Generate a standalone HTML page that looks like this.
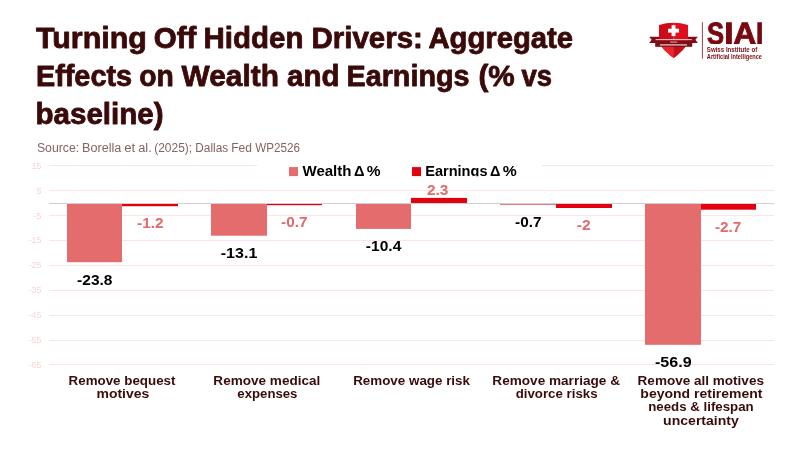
<!DOCTYPE html>
<html>
<head>
<meta charset="utf-8">
<title>Turning Off Hidden Drivers</title>
<style>
html,body{margin:0;padding:0;background:#fff;}
body{width:800px;height:450px;overflow:hidden;font-family:"Liberation Sans",sans-serif;}
svg{display:block;}
text{font-family:"Liberation Sans",sans-serif;}
svg{will-change:transform;}
.title{font-weight:bold;font-size:29.3px;fill:#3a0a0a;stroke:#3a0a0a;stroke-width:0.8px;stroke-linejoin:round;}
.siai{text-rendering:geometricPrecision;font-weight:bold;font-size:30.8px;fill:#770a11;stroke:#770a11;stroke-width:0.9px;stroke-linejoin:miter;}
.lt{font-weight:bold;font-size:7px;fill:#7b0d14;}
.sub{font-size:12px;fill:#856264;}
.ax{font-size:8.8px;fill:#f9d3d3;text-anchor:end;}
.leg{font-weight:bold;font-size:15px;fill:#000;}
.dlk{font-weight:bold;font-size:14px;fill:#000;}
.dlr{font-weight:bold;font-size:14px;fill:#e26a6a;}
.cat{font-weight:bold;font-size:12.4px;fill:#3a0b0b;}
</style>
</head>
<body>
<svg width="800" height="450" viewBox="0 0 800 450">
<rect x="0" y="0" width="800" height="450" fill="#ffffff"/>

<!-- gridlines -->
<g stroke="#fbe4e4" stroke-width="1" shape-rendering="crispEdges">
<line x1="49" x2="774" y1="165.5" y2="165.5"/>
<line x1="49" x2="774" y1="190.5" y2="190.5"/>
<line x1="49" x2="774" y1="215.5" y2="215.5"/>
<line x1="49" x2="774" y1="240.5" y2="240.5"/>
<line x1="49" x2="774" y1="265.5" y2="265.5"/>
<line x1="49" x2="774" y1="290.5" y2="290.5"/>
<line x1="49" x2="774" y1="315.5" y2="315.5"/>
<line x1="49" x2="774" y1="340.5" y2="340.5"/>
<line x1="49" x2="774" y1="364.5" y2="364.5"/>
</g>
<!-- legend background -->
<rect x="257" y="158" width="285" height="18" fill="#ffffff"/>
<!-- zero axis -->
<line x1="49" x2="774" y1="203.5" y2="203.5" stroke="#d0d0d0" stroke-width="1" shape-rendering="crispEdges"/>

<!-- axis labels -->
<g class="ax">
<text x="41.4" y="168.7">15</text>
<text x="41.4" y="193.6">5</text>
<text x="41.4" y="218.5">-5</text>
<text x="41.4" y="243.4">-15</text>
<text x="41.4" y="268.3">-25</text>
<text x="41.4" y="293.2">-35</text>
<text x="41.4" y="318.2">-45</text>
<text x="41.4" y="343.1">-55</text>
<text x="41.4" y="368.0">-65</text>
</g>

<!-- bars -->
<g>
<rect x="67" y="204" width="55" height="58.2" fill="#e46c6c"/>
<rect x="122" y="204" width="56" height="2.2" fill="#e3000f"/>
<rect x="211" y="204" width="56" height="31.7" fill="#e46c6c"/>
<rect x="267" y="204" width="55" height="1.2" fill="#e3000f"/>
<rect x="356" y="204" width="55" height="24.9" fill="#e46c6c"/>
<rect x="411" y="197.9" width="56" height="5.1" fill="#e3000f"/>
<rect x="500" y="204" width="56" height="0.9" fill="#e46c6c"/>
<rect x="556" y="204" width="56" height="4" fill="#e3000f"/>
<rect x="645" y="204" width="56" height="140.8" fill="#e46c6c"/>
<rect x="701" y="204" width="55" height="5.7" fill="#e3000f"/>
</g>

<!-- data labels -->
<text class="dlk" x="77.08" y="284.7" textLength="35.42" lengthAdjust="spacingAndGlyphs">-23.8</text>
<text class="dlr" x="137.09" y="228.1" textLength="26.44" lengthAdjust="spacingAndGlyphs">-1.2</text>
<text class="dlk" x="220.76" y="257.8" textLength="36.61" lengthAdjust="spacingAndGlyphs">-13.1</text>
<text class="dlr" x="281.09" y="226.8" textLength="26.37" lengthAdjust="spacingAndGlyphs">-0.7</text>
<text class="dlk" x="365.88" y="250.7" textLength="35.43" lengthAdjust="spacingAndGlyphs">-10.4</text>
<text class="dlr" x="427.06" y="194.5" textLength="21.38" lengthAdjust="spacingAndGlyphs">2.3</text>
<text class="dlk" x="515.09" y="226.8" textLength="26.37" lengthAdjust="spacingAndGlyphs">-0.7</text>
<text class="dlr" x="576.88" y="229.7" textLength="13.87" lengthAdjust="spacingAndGlyphs">-2</text>
<text class="dlk" x="654.96" y="366.7" textLength="36.64" lengthAdjust="spacingAndGlyphs">-56.9</text>
<text class="dlr" x="714.99" y="231.7" textLength="26.37" lengthAdjust="spacingAndGlyphs">-2.7</text>

<!-- legend -->
<rect x="289" y="167.1" width="9" height="9" fill="#e46c6c"/>
<text class="leg" x="302.46" y="176.1" textLength="49.04" lengthAdjust="spacingAndGlyphs">Wealth</text>
<text class="leg" x="353.92" y="176.1" textLength="10.49" lengthAdjust="spacingAndGlyphs">Δ</text>
<text class="leg" x="366.81" y="176.1" textLength="13.8" lengthAdjust="spacingAndGlyphs">%</text>
<rect x="412" y="167.1" width="9" height="9" fill="#e3000f"/>
<clipPath id="lc"><rect x="420" y="150" width="120" height="26.2"/></clipPath>
<text class="leg" x="425.22" y="176.1" textLength="62.29" lengthAdjust="spacingAndGlyphs" clip-path="url(#lc)">Earnings</text>
<text class="leg" x="490.02" y="176.1" textLength="10.37" lengthAdjust="spacingAndGlyphs" clip-path="url(#lc)">Δ</text>
<text class="leg" x="502.81" y="176.1" textLength="14.01" lengthAdjust="spacingAndGlyphs" clip-path="url(#lc)">%</text>

<!-- category labels -->
<text class="cat" x="68.55" y="384.6" textLength="106.92" lengthAdjust="spacingAndGlyphs">Remove bequest</text>
<text class="cat" x="96.54" y="397.9" textLength="52.74" lengthAdjust="spacingAndGlyphs">motives</text>
<text class="cat" x="213.39" y="384.5" textLength="106.97" lengthAdjust="spacingAndGlyphs">Remove medical</text>
<text class="cat" x="237.37" y="397.9" textLength="60.07" lengthAdjust="spacingAndGlyphs">expenses</text>
<text class="cat" x="353.2" y="384.5" textLength="116.8" lengthAdjust="spacingAndGlyphs">Remove wage risk</text>
<text class="cat" x="492.38" y="384.5" textLength="127.57" lengthAdjust="spacingAndGlyphs">Remove marriage &amp;</text>
<text class="cat" x="515.67" y="397.9" textLength="81.87" lengthAdjust="spacingAndGlyphs">divorce risks</text>
<text class="cat" x="637.59" y="384.5" textLength="126.36" lengthAdjust="spacingAndGlyphs">Remove all motives</text>
<text class="cat" x="640.39" y="397.8" textLength="122.08" lengthAdjust="spacingAndGlyphs">beyond retirement</text>
<text class="cat" x="648.24" y="411.4" textLength="105.39" lengthAdjust="spacingAndGlyphs">needs &amp; lifespan</text>
<text class="cat" x="663.12" y="424.9" textLength="75.75" lengthAdjust="spacingAndGlyphs">uncertainty</text>

<!-- title -->
<text class="title" x="35.92" y="48.3" textLength="110.95" lengthAdjust="spacingAndGlyphs">Turning</text>
<text class="title" x="153.72" y="48.3" textLength="42.55" lengthAdjust="spacingAndGlyphs">Off</text>
<text class="title" x="203.51" y="48.3" textLength="99.9" lengthAdjust="spacingAndGlyphs">Hidden</text>
<text class="title" x="311.41" y="48.3" textLength="111.49" lengthAdjust="spacingAndGlyphs">Drivers:</text>
<text class="title" x="428.47" y="48.3" textLength="144.59" lengthAdjust="spacingAndGlyphs">Aggregate</text>
<text class="title" x="35.95" y="86.2" textLength="96.16" lengthAdjust="spacingAndGlyphs">Effects</text>
<text class="title" x="139.27" y="86.2" textLength="34.58" lengthAdjust="spacingAndGlyphs">on</text>
<text class="title" x="181.63" y="86.2" textLength="97.26" lengthAdjust="spacingAndGlyphs">Wealth</text>
<text class="title" x="287.01" y="86.2" textLength="52.52" lengthAdjust="spacingAndGlyphs">and</text>
<text class="title" x="346.46" y="86.2" textLength="123.14" lengthAdjust="spacingAndGlyphs">Earnings</text>
<text class="title" x="478.42" y="86.2" textLength="36.29" lengthAdjust="spacingAndGlyphs">(%</text>
<text class="title" x="521.56" y="86.2" textLength="30.5" lengthAdjust="spacingAndGlyphs">vs</text>
<text class="title" x="35.48" y="124.2" textLength="128.1" lengthAdjust="spacingAndGlyphs">baseline)</text>
<text class="sub" x="36.95" y="151.9" textLength="42.27" lengthAdjust="spacingAndGlyphs">Source:</text>
<text class="sub" x="82.06" y="151.9" textLength="39.19" lengthAdjust="spacingAndGlyphs">Borella</text>
<text class="sub" x="124.19" y="151.9" textLength="10.92" lengthAdjust="spacingAndGlyphs">et</text>
<text class="sub" x="138.2" y="151.9" textLength="13.57" lengthAdjust="spacingAndGlyphs">al.</text>
<text class="sub" x="154.25" y="151.9" textLength="37.83" lengthAdjust="spacingAndGlyphs">(2025);</text>
<text class="sub" x="195.27" y="151.9" textLength="32.88" lengthAdjust="spacingAndGlyphs">Dallas</text>
<text class="sub" x="231.26" y="151.9" textLength="20.75" lengthAdjust="spacingAndGlyphs">Fed</text>
<text class="sub" x="255.19" y="151.9" textLength="44.71" lengthAdjust="spacingAndGlyphs">WP2526</text>

<!-- logo -->
<g id="logo">
<!-- ribbon tails (behind shield) -->
<path d="M649.2,36.7 L660,36.7 L660,42.9 L649.2,42.9 L651.6,39.8 Z" fill="#820c13"/>
<path d="M697.8,36.7 L687,36.7 L687,42.9 L697.8,42.9 L695.4,39.8 Z" fill="#820c13"/>
<path d="M655.2,42.9 L659,42.9 L659,40.3 L655.2,40.3 Z" fill="#5e080c"/>
<path d="M692.2,42.9 L688,42.9 L688,40.3 L692.2,40.3 Z" fill="#5e080c"/>
<!-- shield -->
<clipPath id="sh"><path d="M659,25 Q673.5,20.4 688,25 L688,36 C688,46 683,50.5 673.6,58.1 C664,50.5 659,46 659,36 Z"/></clipPath>
<g clip-path="url(#sh)">
<rect x="658" y="20" width="15.6" height="40" fill="#d00b19"/>
<rect x="673.6" y="20" width="15.4" height="40" fill="#e00f1e"/>
<rect x="658" y="44" width="15.6" height="16" fill="#e8262f"/>
<rect x="673.6" y="44" width="15.4" height="16" fill="#c50e19"/>
</g>
<!-- cross -->
<rect x="671.6" y="25.2" width="3.9" height="10.9" fill="#fff"/>
<rect x="668.1" y="28.7" width="10.9" height="3.9" fill="#fff"/>
<!-- ribbon band -->
<rect x="655.6" y="39.3" width="36.2" height="1.1" fill="#fff"/>
<rect x="655.2" y="40.3" width="37" height="6.5" fill="#820c13"/>
<rect x="670" y="41.6" width="7.2" height="0.9" fill="#fff" opacity="0.75"/>
<rect x="660" y="44.2" width="27" height="1.4" fill="#fff" opacity="0.7"/>
<!-- divider -->
<rect x="701.9" y="22.2" width="1" height="36.4" fill="#9c4046"/>
<clipPath id="sc"><rect x="700" y="10" width="80" height="34"/></clipPath>
<g clip-path="url(#sc)"><text class="siai" x="706.88" y="44" textLength="17.08" lengthAdjust="spacingAndGlyphs">S</text>
<text class="siai" x="724.38" y="44" textLength="9.36" lengthAdjust="spacingAndGlyphs">I</text>
<text class="siai" x="733.35" y="44" textLength="23.07" lengthAdjust="spacingAndGlyphs">A</text>
<text class="siai" x="755.95" y="44" textLength="7.41" lengthAdjust="spacingAndGlyphs">I</text></g>
<text class="lt" x="706.82" y="52.2" textLength="50.37" lengthAdjust="spacingAndGlyphs">Swiss Institute of</text>
<text class="lt" x="706.86" y="58.6" textLength="55.13" lengthAdjust="spacingAndGlyphs">Artificial Intelligence</text>
</g>
</svg>
</body>
</html>
